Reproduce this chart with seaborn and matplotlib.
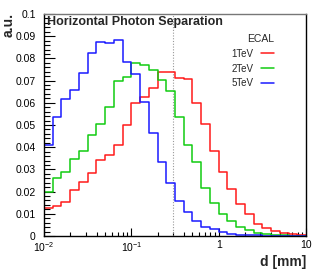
import numpy as np
import pandas as pd
import matplotlib
matplotlib.use("Agg")
import matplotlib.pyplot as plt
import matplotlib.ticker as mticker
import seaborn as sns

# ---- data (a.u. per log bin, 10 bins per decade from 0.01 to 10 mm) ----
bin_edges = np.logspace(-2, 1, 31)
series_names = ["1TeV", "2TeV", "5TeV"]
vals_1tev = [0.0125, 0.0135, 0.0155, 0.0205, 0.0245, 0.0283, 0.0342, 0.0365, 0.041, 0.050,
             0.0598, 0.0628, 0.0665, 0.074, 0.0737, 0.0713, 0.0705, 0.0598, 0.0503, 0.0384,
             0.029, 0.021, 0.0145, 0.0097, 0.0052, 0.0036, 0.0022, 0.0015, 0.0008, 0.0005]
vals_2tev = [0.020, 0.0263, 0.029, 0.0345, 0.0384, 0.0453, 0.0505, 0.058, 0.0698, 0.0718,
             0.0778, 0.077, 0.0748, 0.0703, 0.0655, 0.0535, 0.041, 0.0332, 0.0218, 0.015,
             0.0098, 0.0068, 0.0042, 0.0025, 0.0012, 0.0008, 0.0005, 0.0003, 0.0002, 0.0001]
vals_5tev = [0.041, 0.0535, 0.0616, 0.0658, 0.0736, 0.0826, 0.0872, 0.0868, 0.0882, 0.0785,
             0.073, 0.0602, 0.0462, 0.0335, 0.0237, 0.0158, 0.011, 0.0069, 0.0042, 0.003,
             0.0018, 0.001, 0.0006, 0.0004, 0.0003, 0.0002, 0.0001, 0.0001, 0.0, 0.0]
cut_value = 0.3
y_ticks = [0, 0.01, 0.02, 0.03, 0.04, 0.05, 0.06, 0.07, 0.08, 0.09, 0.1]
x_ticks = [0.01, 0.1, 1, 10]
x_tick_labels = [r"$10^{-2}$", r"$10^{-1}$", "1", "10"]

sns.set_style("ticks")
plt.rcParams["font.family"] = ["Liberation Sans", "DejaVu Sans"]
plt.rcParams["mathtext.fontset"] = "custom"
plt.rcParams["mathtext.rm"] = "Liberation Sans"
plt.rcParams["mathtext.it"] = "Liberation Sans"

rows = []
for name, vals in zip(series_names, [vals_1tev, vals_2tev, vals_5tev]):
    xs = [bin_edges[0]] + list(bin_edges)
    ys = [0.0] + list(vals) + [0.0]
    for i, (x, y) in enumerate(zip(xs, ys)):
        rows.append({"d": x, "v": y, "E": name, "order": i})
df = pd.DataFrame(rows)

fig = plt.figure(figsize=(3.16, 2.75), dpi=100)
ax = fig.add_axes([44 / 316, (275 - 236) / 275, 262 / 316, 222 / 275])

palette = {"1TeV": "#ff1a1a", "2TeV": "#11cc11", "5TeV": "#1a1aff"}
sns.lineplot(data=df, x="d", y="v", hue="E", palette=palette, estimator=None,
             sort=False, units="E", drawstyle="steps-post", lw=1.1, ax=ax, legend=True)

ax.axvline(cut_value, color="#999999", ls=(0, (1, 1.5)), lw=0.8, zorder=1)

ax.set_xscale("log")
ax.set_xlim(0.01, 10)
ax.set_ylim(0, 0.1)
ax.set_xticks(x_ticks)
ax.set_xticklabels(x_tick_labels)
ax.xaxis.set_minor_locator(mticker.LogLocator(base=10, subs=np.arange(2, 10)))
ax.xaxis.set_minor_formatter(mticker.NullFormatter())
ax.set_yticks(y_ticks)
ax.set_yticklabels(["%g" % t for t in y_ticks])
ax.yaxis.set_minor_locator(mticker.MultipleLocator(0.002))

ax.tick_params(axis="both", which="both", direction="in", labelsize=7.5, colors="black")
ax.tick_params(axis="y", which="major", length=8, width=0.8, pad=6)
ax.tick_params(axis="y", which="minor", length=4, width=0.8)
ax.tick_params(axis="x", which="major", length=6, width=0.8, pad=3)
ax.tick_params(axis="x", which="minor", length=3, width=0.8)
for s in ["left", "bottom", "right"]:
    ax.spines[s].set_color("black")
    ax.spines[s].set_linewidth(1.0)
ax.spines["top"].set_color("#777777")
ax.spines["top"].set_linewidth(1.0)

ax.set_xlabel("d [mm]", loc="right", fontsize=10, fontweight="bold")
ax.xaxis.set_label_coords(1.0, -0.085)
ax.set_ylabel("a.u.", loc="top", fontsize=10, fontweight="bold")
ax.yaxis.set_label_coords(-0.11, 1.005)

ax.text(0.012, 0.993, "Horizontal Photon Separation", transform=ax.transAxes,
        ha="left", va="top", fontsize=9, fontweight="bold")

leg = ax.legend(title="ECAL", loc="upper right", bbox_to_anchor=(0.91, 0.95),
                frameon=False, markerfirst=False, fontsize=7, title_fontsize=7.5,
                handlelength=1.3, handletextpad=0.8, labelspacing=0.5,
                alignment="right")

fig.savefig("out.png", dpi=100)
